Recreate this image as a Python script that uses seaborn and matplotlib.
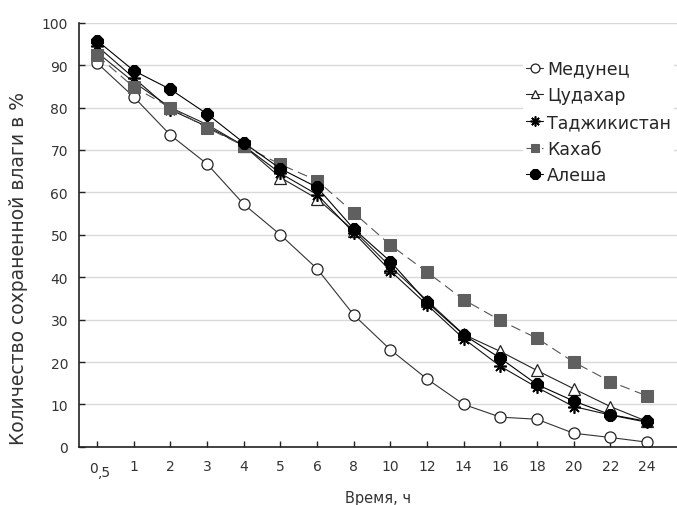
import matplotlib
matplotlib.use('Agg')
import matplotlib.pyplot as plt
import seaborn as sns
import numpy as np

hours = ['0,5', '1', '2', '3', '4', '5', '6', '8', '10', '12', '14', '16', '18', '20', '22', '24']

medunec = [90.5, 82.5, 73.5, 66.7, 57.2, 50.0, 42.0, 31.1, 22.9, 16.0, 10.0, 7.0, 6.5, 3.2, 2.2, 1.1]
cudahar = [93.0, 86.0, 80.0, 76.0, 71.0, 63.5, 58.5, 51.0, 42.5, 34.5, 26.5, 22.5, 18.0, 13.7, 9.5, 6.0]
tadzhik = [94.5, 87.0, 79.5, 75.5, 71.0, 64.5, 59.5, 50.5, 41.5, 33.5, 25.5, 19.0, 14.0, 9.5, 7.5, 5.8]
kahab = [92.3, 84.8, 80.0, 75.2, 71.0, 66.6, 62.8, 55.2, 47.6, 41.2, 34.7, 29.8, 25.6, 20.0, 15.4, 12.0]
alesha = [95.8, 88.7, 84.3, 78.5, 71.7, 65.6, 61.2, 51.4, 43.7, 34.1, 26.4, 20.9, 14.7, 10.8, 7.6, 6.0]

sorts = ['Медунец', 'Цудахар', 'Таджикистан', 'Кахаб', 'Алеша']
series = [medunec, cudahar, tadzhik, kahab, alesha]

sns.set_style('white')
plt.rcParams['font.family'] = ['DejaVu Sans']

fig = plt.figure(figsize=(6.77, 5.06), dpi=100)
ax = fig.add_axes([0.117, 0.115, 0.883, 0.838])

pos = np.arange(len(hours))

# стиль для каждого сорта
styles = {
    'Медунец': dict(marker='o', mfc='white', mec='#222222', ms=8, color='#333333', lw=0.8, mew=0.9),
    'Цудахар': dict(marker='^', mfc='white', mec='#222222', ms=8, color='#222222', lw=0.8, mew=0.9),
    'Таджикистан': dict(marker=(8, 2, 0), mfc='black', mec='black', ms=9, color='#111111', lw=0.8, mew=1.2),
    'Кахаб': dict(marker='s', mfc='#5f5f5f', mec='#5f5f5f', ms=8, color='#555555', lw=0.8, dashes=(9, 5)),
    'Алеша': dict(marker='8', mfc='black', mec='black', ms=9, color='black', lw=0.8),
}

for name, vals in zip(sorts, series):
    st = dict(styles[name])
    dashes = st.pop('dashes', None)
    sns.lineplot(x=pos, y=vals, ax=ax, label=name, **st)
    if dashes is not None:
        ax.lines[-1].set_dashes(dashes)

ax.set_xlim(-0.49, 15.82)
ax.set_ylim(0, 100)
ax.set_yticks(np.arange(0, 101, 10))
ax.set_xticks(pos)
ax.set_xticklabels([''] + hours[1:])
ax.grid(axis='y', color='#d9d9d9', lw=1)
ax.set_axisbelow(True)
for s in ['top', 'right']:
    ax.spines[s].set_visible(False)
for s in ['left', 'bottom']:
    ax.spines[s].set_color('#222222')
    ax.spines[s].set_linewidth(1.2)
ax.tick_params(bottom=True, left=True, direction='in', length=4, width=1, color='#222222',
               labelsize=10, labelcolor='#333333')
ax.tick_params(axis='x', pad=9)
ax.tick_params(axis='y', pad=8)

# подпись "0,5" с опущенной ",5"
tr = ax.get_xaxis_transform()
ax.text(pos[0] + 0.02, -0.033, '0', transform=tr, ha='right', va='top', fontsize=10, color='#333333')
ax.text(pos[0] + 0.02, -0.043, ',5', transform=tr, ha='left', va='top', fontsize=10, color='#333333')

ax.set_ylabel('Количество сохраненной влаги в %', fontsize=13.5, color='#333333')
ax.yaxis.set_label_coords(-0.085, 0.422)
ax.set_xlabel('Время, ч', fontsize=10.5, color='#333333', labelpad=12)

leg = ax.legend(loc='upper left', bbox_to_anchor=(0.772, 0.887), bbox_transform=fig.transFigure,
                frameon=True, fontsize=12.5, handlelength=1.0, handletextpad=0.2, labelspacing=0.5,
                borderpad=0.2, borderaxespad=0, markerscale=0.8)
leg.get_frame().set_facecolor('white')
leg.get_frame().set_edgecolor('none')
leg.get_frame().set_alpha(1)

fig.savefig('out.png', dpi=100)
